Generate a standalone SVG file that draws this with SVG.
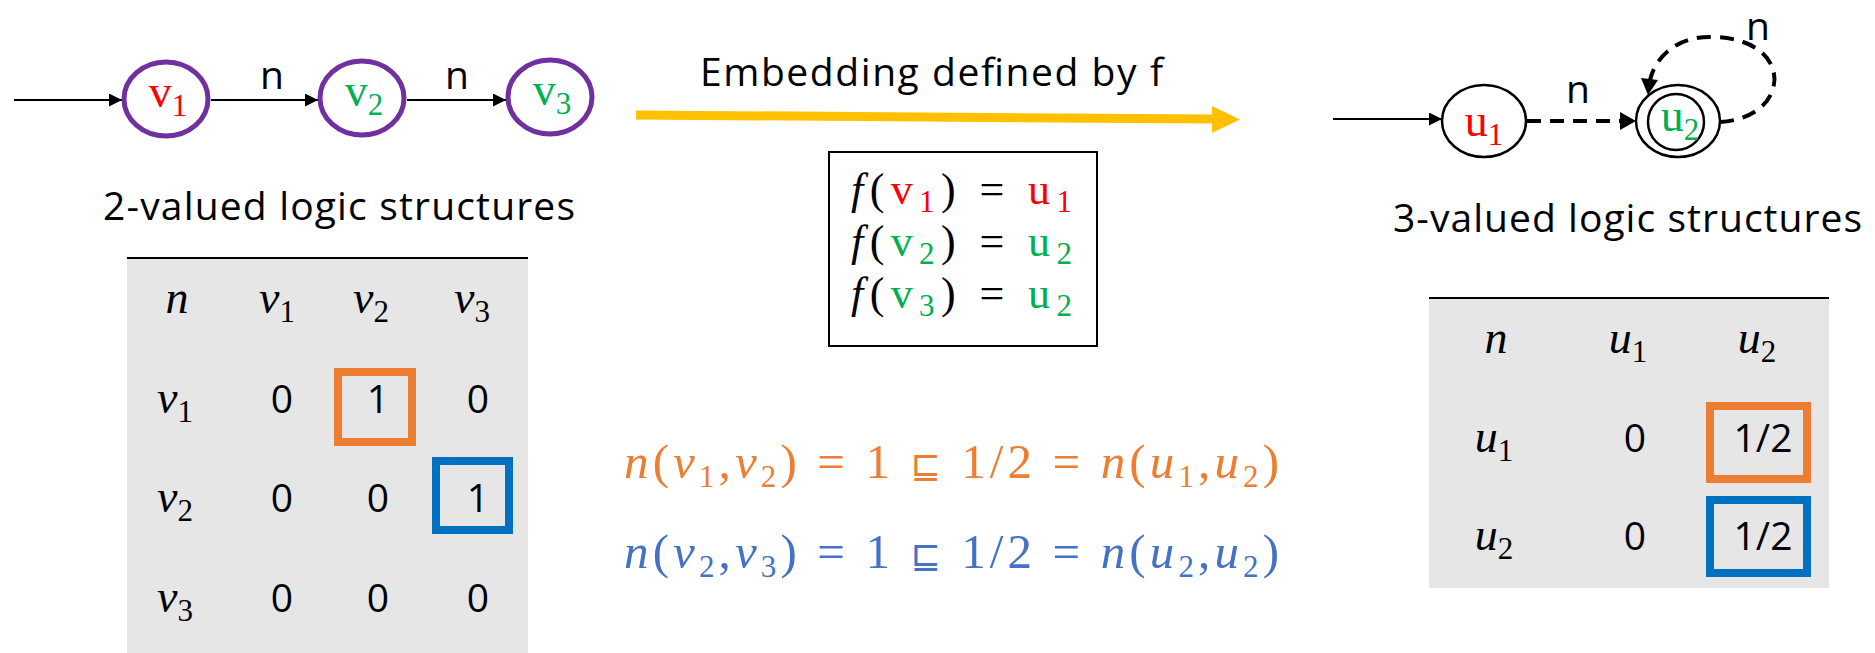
<svg xmlns="http://www.w3.org/2000/svg" width="1875" height="653" viewBox="0 0 1875 653">
<style>
.lbl{font-family:"Open Sans","Liberation Sans",sans-serif;font-size:39px;fill:#000}
.num{font-family:"Open Sans","Liberation Sans",sans-serif;font-size:39px;fill:#000;text-anchor:middle}
.math{font-family:"Liberation Serif","DejaVu Serif",serif;font-size:49px}
.fm{font-family:"Liberation Serif","DejaVu Serif",serif;font-size:44px}
.mi{font-family:"Liberation Serif","DejaVu Serif",serif;font-size:46px;font-style:italic;text-anchor:middle;fill:#000}
.sub{font-size:31px;font-style:normal}
.sq{font-family:"DejaVu Sans",sans-serif;font-size:36px;font-style:normal}
.node{font-family:"Liberation Serif","DejaVu Serif",serif;font-size:46px;text-anchor:middle}
.pv{fill:#fff;stroke:#7030A0;stroke-width:5}
.pu{fill:#fff;stroke:#000;stroke-width:2.5}
.edge{stroke:#000;stroke-width:2;fill:none}
.dash{stroke:#000;stroke-width:4;fill:none;stroke-dasharray:14 9}
.red{fill:#FF0000}.grn{fill:#00B050}
.tbl{fill:#E7E6E6}
.hl{stroke:#000;stroke-width:2}
.ob{fill:none;stroke:#ED7D31;stroke-width:8}
.bb{fill:none;stroke:#0070C0;stroke-width:8}
</style>
<defs>
<marker id="ah" viewBox="0 0 10 10" refX="10" refY="5" markerWidth="14" markerHeight="13" markerUnits="userSpaceOnUse" orient="auto"><path d="M0,0 L10,5 L0,10 z" fill="#000"/></marker>
</defs>

<g id="connectors">
<line class="edge" x1="14" y1="100" x2="122" y2="100" marker-end="url(#ah)"/>
<line class="edge" x1="211" y1="100" x2="318" y2="100" marker-end="url(#ah)"/>
<line class="edge" x1="407" y1="100" x2="506" y2="100" marker-end="url(#ah)"/>
<line class="edge" x1="1333" y1="119" x2="1442" y2="119" marker-end="url(#ah)"/>
<line class="dash" x1="1527" y1="121" x2="1622" y2="121"/>
<path d="M1620,112 L1636,121 L1620,130 z" fill="#000"/>
<path class="dash" d="M1720,122 C1792,118 1796,38 1712,37 C1672,36 1654,62 1650,80"/>
<path d="M1641,78 L1648,95 L1658,80 z" fill="#000"/>
<line x1="636" y1="115" x2="1214" y2="119" stroke="#FFC000" stroke-width="9"/>
<polygon points="1212,106 1240,119.5 1212,133" fill="#FFC000"/>
</g>

<text class="lbl" x="272" y="89" text-anchor="middle">n</text>
<text class="lbl" x="457" y="89" text-anchor="middle">n</text>
<text class="lbl" x="1578" y="103" text-anchor="middle">n</text>
<text class="lbl" x="1758" y="40" text-anchor="middle">n</text>

<g id="v1"><ellipse class="pv" cx="166" cy="99" rx="42" ry="37"/><text class="node red" x="168" y="107">v<tspan class="sub" dy="9">1</tspan></text></g>
<g id="v2"><ellipse class="pv" cx="362" cy="98" rx="42" ry="37"/><text class="node grn" x="364" y="106">v<tspan class="sub" dy="9">2</tspan></text></g>
<g id="v3"><ellipse class="pv" cx="550" cy="97" rx="42" ry="37"/><text class="node grn" x="552" y="105">v<tspan class="sub" dy="9">3</tspan></text></g>

<g id="u1"><ellipse class="pu" cx="1484" cy="121" rx="42" ry="36"/><text class="node red" x="1484" y="136">u<tspan class="sub" dy="9">1</tspan></text></g>
<g id="u2"><ellipse class="pu" cx="1678" cy="121" rx="42" ry="36"/><circle class="pu" cx="1676" cy="122" r="28"/><text class="node grn" x="1680" y="131">u<tspan class="sub" dy="9">2</tspan></text></g>

<text class="lbl" x="103" y="220" textLength="472">2-valued logic structures</text>
<text class="lbl" x="1393" y="232" textLength="469">3-valued logic structures</text>
<text class="lbl" x="700" y="86" textLength="463">Embedding defined by f</text>

<g id="fbox">
<rect x="829" y="152" width="268" height="194" fill="#fff" stroke="#000" stroke-width="2"/>
<text class="fm" x="851" y="204" textLength="221"><tspan font-style="italic">f</tspan>(<tspan class="red">v<tspan class="sub" dy="8">1</tspan></tspan><tspan dy="-8">) = </tspan><tspan class="red">u<tspan class="sub" dy="8">1</tspan></tspan></text>
<text class="fm" x="851" y="256" textLength="221"><tspan font-style="italic">f</tspan>(<tspan class="grn">v<tspan class="sub" dy="8">2</tspan></tspan><tspan dy="-8">) = </tspan><tspan class="grn">u<tspan class="sub" dy="8">2</tspan></tspan></text>
<text class="fm" x="851" y="308" textLength="221"><tspan font-style="italic">f</tspan>(<tspan class="grn">v<tspan class="sub" dy="8">3</tspan></tspan><tspan dy="-8">) = </tspan><tspan class="grn">u<tspan class="sub" dy="8">2</tspan></tspan></text>
</g>

<g id="eq1"><text class="math" x="624" y="478" textLength="655" fill="#ED7D31"><tspan font-style="italic">n</tspan>(<tspan font-style="italic">v</tspan><tspan class="sub" dy="9">1</tspan><tspan dy="-9">,</tspan><tspan font-style="italic">v</tspan><tspan class="sub" dy="9">2</tspan><tspan dy="-9">) = 1 </tspan><tspan class="sq">⊑</tspan><tspan> 1/2 = </tspan><tspan font-style="italic">n</tspan>(<tspan font-style="italic">u</tspan><tspan class="sub" dy="9">1</tspan><tspan dy="-9">,</tspan><tspan font-style="italic">u</tspan><tspan class="sub" dy="9">2</tspan><tspan dy="-9">)</tspan></text></g>
<g id="eq2"><text class="math" x="624" y="568" textLength="655" fill="#4472C4"><tspan font-style="italic">n</tspan>(<tspan font-style="italic">v</tspan><tspan class="sub" dy="9">2</tspan><tspan dy="-9">,</tspan><tspan font-style="italic">v</tspan><tspan class="sub" dy="9">3</tspan><tspan dy="-9">) = 1 </tspan><tspan class="sq">⊑</tspan><tspan> 1/2 = </tspan><tspan font-style="italic">n</tspan>(<tspan font-style="italic">u</tspan><tspan class="sub" dy="9">2</tspan><tspan dy="-9">,</tspan><tspan font-style="italic">u</tspan><tspan class="sub" dy="9">2</tspan><tspan dy="-9">)</tspan></text></g>

<g id="table2">
<rect class="tbl" x="127" y="258" width="401" height="395"/>
<line class="hl" x1="127" y1="258" x2="528" y2="258"/>
<text class="mi" x="177" y="313">n</text>
<text class="mi" x="277" y="313">v<tspan class="sub" dy="9">1</tspan></text>
<text class="mi" x="371" y="313">v<tspan class="sub" dy="9">2</tspan></text>
<text class="mi" x="472" y="313">v<tspan class="sub" dy="9">3</tspan></text>
<text class="mi" x="175" y="413">v<tspan class="sub" dy="9">1</tspan></text>
<text class="mi" x="175" y="512">v<tspan class="sub" dy="9">2</tspan></text>
<text class="mi" x="175" y="612">v<tspan class="sub" dy="9">3</tspan></text>
<text class="num" x="282" y="413">0</text><text class="num" x="378" y="413">1</text><text class="num" x="478" y="413">0</text>
<text class="num" x="282" y="512">0</text><text class="num" x="378" y="512">0</text><text class="num" x="478" y="512">1</text>
<text class="num" x="282" y="612">0</text><text class="num" x="378" y="612">0</text><text class="num" x="478" y="612">0</text>
<rect class="ob" x="338" y="372" width="74" height="70"/>
<rect class="bb" x="436" y="461" width="73" height="69"/>
</g>

<g id="table3">
<rect class="tbl" x="1429" y="298" width="400" height="290"/>
<line class="hl" x1="1429" y1="298" x2="1829" y2="298"/>
<text class="mi" x="1496" y="353">n</text>
<text class="mi" x="1628" y="353">u<tspan class="sub" dy="9">1</tspan></text>
<text class="mi" x="1757" y="353">u<tspan class="sub" dy="9">2</tspan></text>
<text class="mi" x="1494" y="452">u<tspan class="sub" dy="9">1</tspan></text>
<text class="mi" x="1494" y="550">u<tspan class="sub" dy="9">2</tspan></text>
<text class="num" x="1635" y="452">0</text><text class="num" x="1763" y="452">1/2</text>
<text class="num" x="1635" y="550">0</text><text class="num" x="1763" y="550">1/2</text>
<rect class="ob" x="1710" y="406" width="97" height="73"/>
<rect class="bb" x="1710" y="500" width="97" height="73"/>
</g>
</svg>
